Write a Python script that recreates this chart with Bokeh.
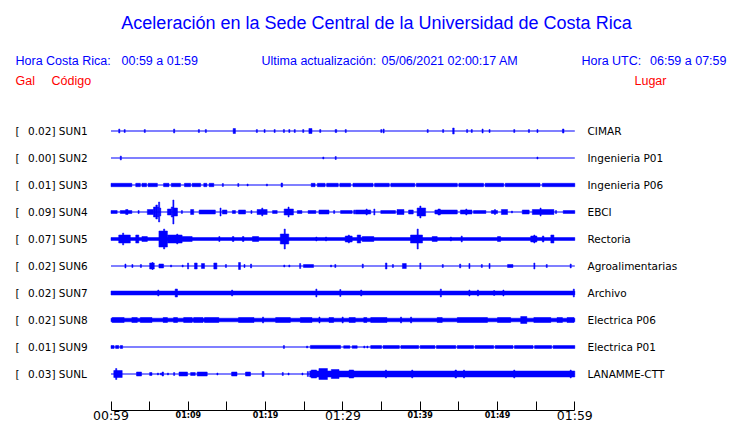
from bokeh.plotting import figure
from bokeh.models import Range1d, LinearAxis, FixedTicker
from bokeh.core.properties import value
from bokeh.embed import file_html
from bokeh.resources import INLINE

# ---------------- data ----------------
codes = ["SUN1", "SUN2", "SUN3", "SUN4", "SUN5", "SUN6", "SUN7", "SUN8", "SUN9", "SUNL"]
pga = ["0.02", "0.00", "0.01", "0.09", "0.07", "0.02", "0.02", "0.02", "0.01", "0.03"]
places = ["CIMAR", "Ingenieria P01", "Ingenieria P06", "EBCI", "Rectoria",
          "Agroalimentarias", "Archivo", "Electrica P06", "Electrica P01", "LANAMME-CTT"]

big_ticks = [0, 30, 60]
big_labels = ["00:59", "01:29", "01:59"]
small_ticks = [5, 10, 15, 20, 25, 35, 40, 45, 50, 55]
small_labels = ["", "01:09", "", "01:19", "", "", "01:39", "", "01:49", ""]

# envelope events per station: (start minute, end minute, half amplitude)
sun1 = [(1.0, 1.0, 2), (1.7, 1.7, 1.5), (4.3, 4.3, 1.5), (8.1, 8.1, 2), (11.3, 11.3, 1.5), (12.2, 12.2, 1.5),
        (15.8, 16.1, 2.5), (18.8, 18.8, 1.5), (19.8, 19.8, 1.5), (21.1, 21.1, 1.5), (22.3, 22.3, 1.5),
        (23.0, 23.0, 1.5), (23.7, 23.7, 1.5), (24.8, 24.8, 1.5), (25.6, 26.0, 2.5), (27.0, 27.0, 1.5),
        (29.0, 29.2, 1.5), (30.3, 30.3, 1.5), (34.9, 34.9, 1.5), (35.2, 35.2, 2), (40.9, 40.9, 1.5),
        (42.9, 42.9, 1.5), (44.2, 44.4, 3), (46.0, 46.0, 1.5), (46.6, 46.6, 1.5), (48.0, 48.0, 2),
        (48.9, 48.9, 1.5), (52.1, 52.1, 1.5), (54.0, 54.0, 1.5), (55.1, 55.1, 1.5), (58.4, 58.6, 2)]
sun2 = [(1.2, 1.2, 2), (27.4, 27.4, 1), (29.0, 29.0, 1.5), (55.1, 55.1, 1)]
sun3 = [(0, 2.7, 1.7), (3.2, 3.8, 1.7), (4.0, 4.6, 1.7), (4.8, 6.0, 1.7), (6.8, 7.5, 1.7), (7.8, 9.0, 1.7),
        (9.5, 10.3, 1.7), (10.5, 11.6, 1.7), (12.0, 12.4, 1.7), (12.7, 13.3, 1.7), (14.4, 14.4, 1.5),
        (16.4, 16.4, 1.5), (17.6, 17.6, 1), (20.1, 20.1, 1), (22.0, 22.2, 2), (25.9, 26.4, 1.7), (26.7, 27.7, 1.7),
        (27.9, 29.4, 1.7), (29.6, 31.0, 1.7), (31.3, 33.9, 1.7), (34.1, 36.0, 1.7), (36.2, 39.3, 1.7),
        (39.5, 44.8, 1.7), (45.0, 48.2, 1.7), (48.4, 50.8, 1.7), (51.0, 55.5, 1.7), (55.8, 60, 1.7)]
sun4 = [(0, 0.8, 1.5), (1.2, 2.7, 1.5), (1.9, 2.2, 2.5), (3.5, 3.5, 1.5), (4.7, 5.5, 2.5), (5.5, 5.8, 5),
        (5.8, 6.0, 7), (6.0, 6.15, 5), (6.15, 6.3, 10), (6.3, 6.4, 4), (7.3, 7.8, 3), (7.8, 8.0, 5), (8.0, 8.1, 12),
        (8.1, 8.6, 4), (9.1, 9.1, 1.5), (10.3, 10.7, 2.5), (11.4, 13.5, 2), (14.1, 14.1, 4), (14.4, 15.0, 2),
        (15.7, 16.1, 1.5), (16.5, 17.4, 2), (18.1, 18.1, 1.5), (18.9, 20.2, 2.5), (19.5, 19.6, 4), (20.9, 21.5, 1.5),
        (22.4, 23.6, 3), (22.9, 23.0, 5), (24.1, 24.7, 1.5), (25.5, 26.5, 1.5), (26.9, 28.2, 2), (28.8, 28.8, 1.5),
        (29.7, 31.2, 1.5), (31.4, 31.4, 2), (31.6, 33.6, 2), (33.0, 33.1, 3), (34.0, 34.0, 3), (34.9, 36.8, 1.5),
        (37.0, 37.9, 2.5), (38.5, 39.1, 2), (39.6, 40.7, 4), (39.95, 40.1, 6), (41.9, 44.8, 2), (42.3, 42.6, 3),
        (45.2, 46.7, 2), (45.9, 45.9, 3), (46.9, 48.5, 1.5), (49.2, 50.0, 1.5), (49.6, 49.6, 2.5), (50.5, 51.3, 2.5),
        (51.8, 51.8, 1), (53.2, 54.1, 2), (54.5, 57.3, 2.5), (55.5, 55.6, 4), (57.5, 57.5, 1.5), (58.5, 60, 1.5)]
sun5 = [(0, 60, 1.5), (1.0, 2.5, 4), (1.5, 1.6, 6), (3.2, 3.6, 4), (4.0, 4.7, 2.5), (6.2, 7.3, 8), (6.8, 6.95, 10),
        (7.3, 9.2, 4), (8.5, 8.6, 5), (9.2, 10.5, 2.5), (13.95, 13.95, 2.5), (15.7, 15.9, 2.5), (17.0, 17.2, 2.5),
        (18.3, 19.1, 2.5), (21.9, 23.0, 5), (22.4, 22.55, 10), (26.5, 26.5, 2), (27.75, 27.75, 2), (30.3, 31.2, 3),
        (30.7, 30.8, 4), (31.85, 32.3, 4), (32.5, 34.0, 2.5), (38.75, 40.3, 4), (39.6, 39.75, 10), (41.55, 42.2, 2.5),
        (43.9, 43.9, 2), (45.3, 45.3, 3), (50.0, 50.4, 2.5), (54.3, 55.1, 3), (54.7, 54.7, 4), (55.8, 56.0, 3),
        (56.9, 57.3, 4)]
sun6 = [(1.8, 1.8, 2), (2.7, 2.7, 1.5), (3.8, 3.8, 1.5), (5.0, 5.6, 3), (5.3, 5.4, 3.5), (6.2, 6.8, 2), (7.7, 7.7, 1),
        (9.2, 9.2, 1), (9.9, 9.9, 3), (10.8, 11.15, 3), (11.7, 12.1, 2.5), (13.3, 13.7, 3), (14.8, 14.8, 1.5),
        (16.5, 16.75, 3.5), (17.2, 17.2, 1.5), (18.05, 18.05, 2), (22.35, 22.35, 1), (23.0, 23.0, 1), (24.4, 24.4, 2.5),
        (24.9, 26.2, 1.5), (28.4, 28.4, 1), (28.95, 28.95, 1.5), (32.5, 32.5, 2), (35.5, 35.7, 3), (36.4, 36.4, 1.5),
        (37.7, 38.2, 2.5), (39.95, 39.95, 3), (42.85, 42.85, 1.5), (45.1, 45.1, 2), (46.3, 46.3, 2.5), (47.9, 47.9, 1.5),
        (48.9, 48.9, 2.5), (51.3, 52.0, 1.5), (54.7, 54.7, 3), (56.3, 56.3, 1.5), (59.4, 59.4, 2)]
sun7 = [(0, 60, 2.0), (6.05, 6.05, 3), (8.3, 8.6, 4), (15.6, 15.6, 3), (26.5, 26.5, 4), (29.6, 29.6, 3.5),
        (32.3, 32.3, 3), (42.6, 42.6, 4), (46.3, 46.3, 3), (47.4, 47.4, 3), (49.5, 49.5, 2.5), (50.7, 50.7, 3),
        (59.8, 59.8, 4)]
sun8 = [(0, 60, 1.8), (0.15, 1.7, 2.5), (2.7, 3.4, 2.5), (3.8, 5.3, 2.5), (6.75, 7.3, 2.5), (8.1, 8.6, 2.5),
        (9.4, 10.5, 2.5), (10.7, 11.9, 2.5), (12.1, 13.95, 2.5), (16.5, 18.5, 2.5), (19.6, 19.6, 3), (21.3, 23.2, 2.5),
        (24.5, 26.0, 2.5), (26.9, 26.9, 3), (28.2, 28.8, 2.5), (29.9, 29.9, 3), (30.8, 31.6, 2.5), (32.7, 33.1, 2.5),
        (33.6, 35.7, 2.5), (37.45, 37.45, 3), (38.75, 38.75, 3), (42.2, 42.85, 2.5), (44.8, 48.7, 2.5),
        (50.0, 51.7, 2.5), (53.0, 53.8, 3.5), (54.7, 56.9, 2.5), (57.7, 58.4, 2.5), (59.0, 59.9, 2.5)]
sun9 = [(0, 0.4, 1.5), (0.6, 1.0, 1.5), (1.2, 1.5, 1.5), (22.3, 22.3, 1.5), (25.3, 25.3, 1), (25.8, 29.7, 1.6),
        (30.1, 30.9, 1.3), (31.2, 31.85, 1.3), (32.7, 32.7, 1), (33.1, 33.1, 1), (33.6, 35.0, 1.5), (35.2, 37.3, 1.5),
        (37.5, 39.8, 1.5), (40.0, 41.9, 1.5), (42.1, 44.6, 1.5), (44.8, 46.9, 1.5), (47.1, 49.5, 1.5),
        (49.7, 52.0, 1.5), (52.2, 54.6, 1.5), (54.8, 57.0, 1.5), (57.2, 60, 1.5)]
sunl = [(0.36, 1.45, 3.5), (0.6, 0.75, 5.5), (3.3, 3.95, 2), (5.0, 5.3, 1.5), (6.0, 6.0, 1), (6.4, 6.4, 1),
        (6.6, 6.8, 2), (7.3, 7.3, 1), (8.1, 8.1, 1.5), (8.8, 9.9, 2), (10.3, 10.9, 1.5), (11.15, 12.45, 2),
        (13.7, 13.7, 1), (15.6, 16.3, 2), (17.4, 18.05, 2), (19.55, 19.8, 2.5), (22.15, 22.15, 1.5), (22.9, 22.9, 1),
        (24.7, 24.7, 1), (25.4, 25.4, 2.5), (25.7, 60, 3.0), (25.9, 26.6, 4), (26.9, 28.0, 5.5), (28.5, 29.5, 4.5),
        (30.8, 31.4, 4), (35.5, 35.6, 4), (38.9, 39.0, 4), (44.5, 44.7, 4), (45.6, 45.7, 4),
        (52.1, 52.2, 4), (59.4, 59.5, 4)]
events = [sun1, sun2, sun3, sun4, sun5, sun6, sun7, sun8, sun9, sunl]

# ---------------- layout ----------------
W, H = 740, 423
PX_PER_MIN = 7.73
X0_PX = 110.5
x_start = -X0_PX / PX_PER_MIN
x_end = x_start + W / PX_PER_MIN
BLUE = "#0000ff"
RED = "#ff0000"
FIRST_BASE = 130.5
SPACING = 27
MIN_W = 0.14


def sx(px):
    return x_start + px / PX_PER_MIN


def sy(py):
    return py


p = figure(width=W, height=H, x_range=Range1d(x_start, x_end), y_range=Range1d(H, 0),
           x_axis_type=None, y_axis_type=None, output_backend="svg", toolbar_location=None,
           min_border=0, outline_line_color=None, background_fill_color="white")

bases = [sy(FIRST_BASE + i * SPACING) for i in range(len(codes))]

# base lines
p.segment(x0=[0] * len(bases), x1=[60] * len(bases), y0=bases, y1=bases, line_color=BLUE, line_width=1.1)

# envelopes
L, R, T, B = [], [], [], []
for base, evs in zip(bases, events):
    for s, e, a in evs:
        L.append(s)
        R.append(max(e, s + MIN_W))
        T.append(base - a)
        B.append(base + a)
p.quad(left=L, right=R, top=T, bottom=B, fill_color=BLUE, line_color=BLUE, line_width=0.5)

# titles and headers
p.text(x=[sx(376)], y=[sy(22)], text=["Aceleración en la Sede Central de la Universidad de Costa Rica"],
       text_font=value("Liberation Sans"), text_font_size="18px", text_color=BLUE,
       text_align="center", text_baseline="middle")
p.text(x=[sx(15), sx(121), sx(261), sx(381), sx(581)], y=[sy(60)] * 5,
       text=["Hora Costa Rica:", "00:59 a 01:59", "Ultima actualización:", "05/06/2021 02:00:17 AM", "Hora UTC:"],
       text_font=value("Liberation Sans"), text_font_size="12.5px", text_color=BLUE,
       text_align="left", text_baseline="middle")
p.text(x=[sx(726)], y=[sy(60)], text=["06:59 a 07:59"],
       text_font=value("Liberation Sans"), text_font_size="12.5px", text_color=BLUE,
       text_align="right", text_baseline="middle")
p.text(x=[sx(15), sx(51), sx(634)], y=[sy(80)] * 3, text=["Gal", "Código", "Lugar"],
       text_font=value("Liberation Sans"), text_font_size="12.5px", text_color=RED,
       text_align="left", text_baseline="middle")

# station labels
p.text(x=[sx(15)] * len(bases), y=bases, text=["["] * len(bases),
       text_font=value("DejaVu Sans"), text_font_size="10.5px", text_color="black",
       text_align="left", text_baseline="middle")
p.text(x=[sx(27.5)] * len(bases), y=bases, text=[f"{v}] {c}" for v, c in zip(pga, codes)],
       text_font=value("DejaVu Sans"), text_font_size="10.5px", text_color="black",
       text_align="left", text_baseline="middle")
p.text(x=[sx(587)] * len(bases), y=bases, text=places,
       text_font=value("DejaVu Sans"), text_font_size="10.5px", text_color="black",
       text_align="left", text_baseline="middle")

# time axis
AXIS_Y = sy(409.5)
ax_small = LinearAxis(ticker=FixedTicker(ticks=small_ticks), fixed_location=AXIS_Y, bounds=(0, 60),
                      major_label_overrides=dict(zip(small_ticks, small_labels)))
ax_small.axis_line_color = None
ax_small.major_tick_in = 9
ax_small.major_tick_out = 0
ax_small.minor_tick_line_color = None
ax_small.major_tick_line_color = "black"
ax_small.major_label_standoff = 1
ax_small.major_label_text_font = "DejaVu Sans"
ax_small.major_label_text_font_size = "8px"
ax_small.major_label_text_font_style = "bold"
ax_small.major_label_text_color = "black"
p.add_layout(ax_small, "below")

ax_big = LinearAxis(ticker=FixedTicker(ticks=big_ticks), fixed_location=AXIS_Y, bounds=(0, 60),
                    major_label_overrides=dict(zip(big_ticks, big_labels)))
ax_big.axis_line_color = "black"
ax_big.axis_line_width = 1
ax_big.major_tick_in = 9
ax_big.major_tick_out = 0
ax_big.minor_tick_line_color = None
ax_big.major_tick_line_color = "black"
ax_big.major_label_standoff = -2
ax_big.major_label_text_font = "DejaVu Sans"
ax_big.major_label_text_font_size = "12.5px"
ax_big.major_label_text_color = "black"
p.add_layout(ax_big, "below")

open("out.html", "w").write(file_html(p, INLINE))
